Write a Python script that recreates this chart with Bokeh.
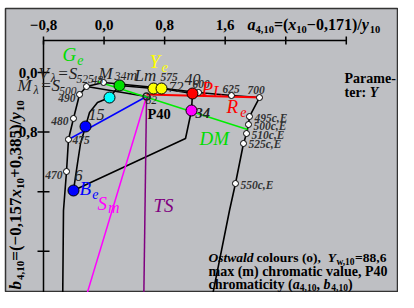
import math
from bokeh.plotting import figure
from bokeh.models import Range1d
from bokeh.core.properties import value
from bokeh.embed import file_html
from bokeh.resources import INLINE

# ---------------- data ----------------
x_ticks = [-0.8, 0.0, 0.8, 1.6, 2.4, 3.2]
x_tick_labels = ["\u22120,8", "0,0", "0,8", "1,6", "", ""]
y_ticks = [0.0, -0.8, -1.6, -2.4]
y_tick_labels = ["0,0", "\u22120,8", "", ""]

# spectral locus (wavelength dots)
wl_labels = ["470", "475", "480", "490", "", "", "575", "600", "625", "700"]
wl_a = [-0.496, -0.470, -0.404, -0.324, -0.232, -0.007, 0.680, 1.248, 1.683, 2.053]
wl_b = [-1.329, -0.899, -0.617, -0.295, -0.188, -0.134, -0.201, -0.268, -0.309, -0.336]
locus_tail_a = [-0.549, -0.536]
locus_tail_b = [-3.329, -1.852]

# compensation curve (c,E)
ce_labels = ["495c,E", "500c,E", "510c,E", "525c,E", "550c,E"]
ce_a = [1.921, 1.908, 1.882, 1.842, 1.736]
ce_b = [-0.591, -0.698, -0.819, -0.953, -1.490]
ce_tail_a = [1.657, 1.366]
ce_tail_b = [-1.852, -3.329]

# Ostwald optimal colour boundary (closed)
ost_a = [-0.404, -0.351, -0.311, -0.245, -0.192, -0.087, 0.072, 0.204, 0.653, 0.759, 1.168, 1.155, 1.076, -0.404]
ost_b = [-1.584, -1.221, -0.953, -0.725, -0.537, -0.403, -0.336, -0.174, -0.215, -0.215, -0.282, -0.510, -0.886, -1.584]

# coloured points
dot_a = [-0.404, -0.245, 0.072, 0.204, 0.653, 0.759, 1.168, 1.155]
dot_b = [-1.584, -0.725, -0.336, -0.174, -0.215, -0.215, -0.282, -0.510]
dot_color = ["#0000ff", "#0000ff", "#00ffff", "#00dd00", "#ffff00", "#ffff00", "#ff0000", "#ff00ff"]

# P40 point and hue lines
p40_a, p40_b = 0.561, -0.322
blue_a, blue_b = [-0.470, 0.561], [-0.899, -0.322]
green_a, green_b = [-0.087, 1.895], [-0.121, -0.765]
red_a, red_b = [0.561, 2.093], [-0.295, -0.336]
mag_a, mag_b = [0.561, -0.332], [-0.322, -3.329]
pur_a, pur_b = [0.561, 0.521], [-0.322, -3.329]
blk_a, blk_b = [-0.232, 0.561], [-0.188, -0.322]

# ---------------- layout ----------------
KX, KY = 75.7, 74.5
W_, H_ = 398, 292
OX, OY = 5, 8          # frame origin within the picture
FW, FH = W_ - OX, H_ - OY
A0 = -0.8 - (43 - OX) / KX
A1 = A0 + FW / KX
B1 = (72 - OY) / KY
B0 = B1 - FH / KY
GRAY = "#bebfc3"
FONT = value("Liberation Serif")


def X(px):
    return -0.8 + (px - 43) / KX


def Y(py):
    return (72 - py) / KY


p = figure(width=W_, height=H_, x_range=Range1d(A0, A1), y_range=Range1d(B0, B1),
           output_backend="svg", toolbar_location=None,
           min_border_left=OX, min_border_top=OY, min_border_right=0, min_border_bottom=0,
           x_axis_type=None, y_axis_type=None)
p.background_fill_color = GRAY
p.border_fill_color = "white"
p.outline_line_color = "#333333"
p.outline_line_width = 1.5

CW = {' ': 250, '!': 333, '(': 333, ')': 333, '+': 570, ',': 250, '-': 333, '.': 250, '/': 278,
      ':': 333, '=': 570, '\u2212': 570, 'λ': 550,
      'A': 722, 'B': 667, 'C': 722, 'D': 722, 'E': 667, 'G': 778, 'L': 667, 'M': 944, 'O': 778,
      'P': 611, 'R': 722, 'S': 556, 'T': 667, 'V': 722, 'Y': 640,
      'a': 500, 'b': 556, 'c': 444, 'd': 556, 'e': 444, 'h': 556, 'i': 278, 'l': 278, 'm': 833,
      'o': 500, 'r': 444, 's': 389, 't': 333, 'u': 556, 'v': 500, 'w': 722, 'x': 500, 'y': 500}


def tw(s, size):
    return sum(CW.get(c, 500) for c in s) * size / 1000.0


def txt(px, py, s, size, color="#000000", style="normal", align="left", angle=0.0):
    p.text(x=[X(px)], y=[Y(py)], text=[s], text_font=FONT, text_font_size=f"{size}px",
           text_font_style=style, text_color=color, text_align=align,
           text_baseline="middle", angle=angle)


def run(px, py, pieces, color="#000000", rotated=False):
    for s, size, style, dy in pieces:
        if rotated:
            txt(px + dy, py, s, size, color, style, "left", math.pi / 2)
            py -= tw(s, size)
        else:
            txt(px, py + dy, s, size, color, style, "left")
            px += tw(s, size)


# ---------------- axes ----------------
bt = Y(40)
p.segment(x0=[x_ticks[0]], y0=[bt], x1=[x_ticks[-1]], y1=[bt], line_color="black", line_width=1.5)
p.segment(x0=[x_ticks[0]], y0=[bt], x1=[x_ticks[0]], y1=[B0 - 0.2], line_color="black", line_width=1.5)
p.segment(x0=x_ticks, y0=[bt + 4 / KY] * len(x_ticks), x1=x_ticks, y1=[bt - 4 / KY] * len(x_ticks),
          line_color="black", line_width=1.5)
p.segment(x0=[x_ticks[0] - 6 / KX] * len(y_ticks), y0=y_ticks, x1=[x_ticks[0] + 6 / KX] * len(y_ticks),
          y1=y_ticks, line_color="black", line_width=1.5)
p.text(x=x_ticks, y=[Y(24)] * len(x_ticks), text=x_tick_labels, text_font=FONT, text_font_size="15px",
       text_font_style="bold", text_align="center", text_baseline="middle", text_color="black")
p.text(x=[X(37)] * len(y_ticks), y=y_ticks, text=y_tick_labels, text_font=FONT, text_font_size="15px",
       text_font_style="bold", text_align="right", text_baseline="middle", text_color="black")

# axis titles
run(247, 24, [("a", 16, "bold italic", 0), ("4,10", 10.5, "bold", 5), ("=(", 16, "bold", 0),
              ("x", 16, "bold italic", 0), ("10", 10.5, "bold", 5), ("\u22120,171)/", 16, "bold", 0),
              ("y", 16, "bold italic", 0), ("10", 10.5, "bold", 5)])
run(15, 289, [("b", 17, "bold italic", 0), ("4,10", 11, "bold", 5), ("=(\u22120,157", 17, "bold", 0),
              ("x", 17, "bold italic", 0), ("10", 11, "bold", 5), ("+0,385)/", 17, "bold", 0),
              ("y", 17, "bold italic", 0), ("10", 11, "bold", 5)], rotated=True)

# ---------------- curves ----------------
p.line(locus_tail_a + wl_a, locus_tail_b + wl_b, line_color="black", line_width=1.6)
p.line([wl_a[-1]] + ce_a + ce_tail_a, [wl_b[-1]] + ce_b + ce_tail_b, line_color="black", line_width=1.6)
p.line(ost_a, ost_b, line_color="black", line_width=1.6)
p.line(blk_a, blk_b, line_color="black", line_width=1.4)
p.line(mag_a, mag_b, line_color="#ff00ff", line_width=1.5)
p.line(pur_a, pur_b, line_color="#800080", line_width=1.5)
p.line(blue_a, blue_b, line_color="#0000ff", line_width=1.5)
p.line(green_a, green_b, line_color="#00ee00", line_width=1.5)
p.line(red_a, red_b, line_color="#ff0000", line_width=2)

p.scatter(wl_a, wl_b, size=6, fill_color="white", line_color="black", line_width=1)
p.scatter(ce_a, ce_b, size=6, fill_color="white", line_color="black", line_width=1)
p.scatter(dot_a, dot_b, size=11, fill_color=dot_color, line_color="black", line_width=1)
p.scatter([p40_a], [p40_b], size=7, fill_color=None, line_color="#222222", line_width=1.5)

# wavelength labels
wl_off = [(-4, 3, "right"), (4, 1, "left"), (-5, 3, "right"), (-4, 4, "right"), (0, 0, "left"),
          (0, 0, "left"), (5, -10, "left"), (-6, -8, "left"), (-9, -7, "left"), (-12, -8, "left")]
for lab, a, b, (dx, dy, al) in zip(wl_labels, wl_a, wl_b, wl_off):
    if lab:
        p.text(x=[a + dx / KX], y=[b - dy / KY], text=[lab], text_font=FONT, text_font_size="11.5px",
               text_font_style="bold italic", text_color="#333333", text_align=al, text_baseline="middle")
p.text(x=[a + 5 / KX for a in ce_a], y=[b - 1 / KY for b in ce_b], text=ce_labels, text_font=FONT,
       text_font_size="11.5px", text_font_style="bold italic", text_color="#333333",
       text_align="left", text_baseline="middle")

# ---------------- labels ----------------
run(62, 54, [("G", 19, "italic", 0), ("e", 14, "italic", 5)], color="#00dd00")
run(149, 61, [("Y", 19, "italic", 0), ("e", 14, "italic", 5)], color="#ffff00")
run(201, 88, [("P", 19, "italic", 0), ("L", 16, "italic", 3)], color="#ff0000")
run(226, 106, [("R", 19, "italic", 0), ("e", 14, "italic", 5)], color="#ff0000")
txt(199, 138, "DM", 19, "#00dd00", "italic")
run(79, 188, [("B", 19, "italic", 0), ("e", 14, "italic", 5)], color="#0000ff")
run(97, 203, [("S", 19, "italic", 0), ("m", 16, "italic", 4)], color="#ff00ff")
txt(153, 205, "TS", 19, "#800080", "italic")
txt(147, 113, "P40", 14.5, "#000000", "bold")
txt(195, 112, "34", 14.5, "#222222", "bold italic")
txt(145, 99, "82", 11.5, "#222222", "italic")
txt(88, 114, "15", 16, "#222222", "italic")
txt(74, 175, "6", 16, "#222222", "italic")
txt(184, 79, "40", 16, "#222222", "italic")
txt(168, 86, "72", 15, "#222222", "italic")
txt(134, 75, "Lm", 17, "#222222", "italic")
txt(91, 79, "48", 11.5, "#222222", "italic")
run(38, 73, [("V", 17, "italic", 0), ("λ", 12, "italic", 4), ("=S", 17, "italic", 0),
             ("525", 11.5, "italic", 5)], color="#222222")
run(98, 73, [("M", 17, "italic", 0), ("34", 12, "italic", 2), ("m", 15, "italic", 1)], color="#222222")
run(17, 85, [("M", 17, "italic", 0), ("λ", 12, "italic", 4), ("=S", 17, "italic", 0),
             ("500", 11.5, "italic", 5)], color="#222222")

# parameter note
txt(344, 78, "Parame-", 14, "#000000", "bold")
run(344, 92, [("ter: ", 14, "bold", 0), ("Y", 14, "bold italic", 0)])

# bottom note
run(208, 257, [("Ostwald", 13.5, "bold italic", 0), (" colours (o), ", 13.5, "bold", 0),
               ("Y", 13.5, "bold italic", 0), ("w,10", 9.5, "bold", 4), ("=88,6", 13.5, "bold", 0)])
run(208, 271, [("max (m) chromatic value, P40", 14, "bold", 0)])
run(208, 284, [("chromaticity (", 14, "bold", 0), ("a", 14, "bold italic", 0), ("4,10", 9.5, "bold", 3),
               (", ", 14, "bold", 0), ("b", 14, "bold italic", 0), ("4,10", 9.5, "bold", 3),
               (")", 14, "bold", 0)])

open("out.html", "w").write(file_html(p, INLINE))
